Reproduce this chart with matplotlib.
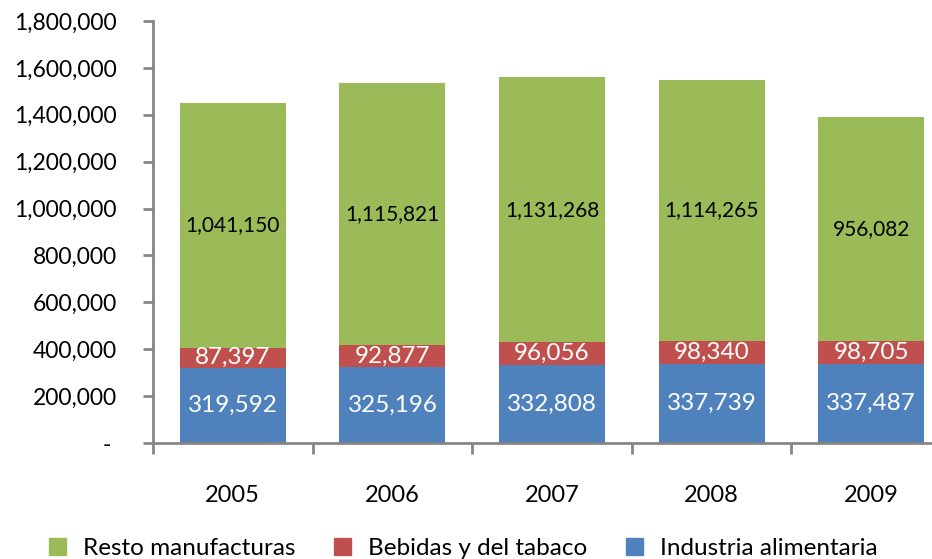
import numpy as np
import matplotlib
matplotlib.use("Agg")
import matplotlib.pyplot as plt
from matplotlib.patches import Patch
from matplotlib.ticker import FuncFormatter, FixedLocator

years = ["2005", "2006", "2007", "2008", "2009"]
industria = [319592, 325196, 332808, 337739, 337487]
bebidas = [87397, 92877, 96056, 98340, 98705]
resto = [1041150, 1115821, 1131268, 1114265, 956082]

c_blue = "#4F81BD"
c_red = "#C0504D"
c_green = "#9BBB59"
c_axis = "#868686"

plt.rcParams["font.family"] = ["Lato", "DejaVu Sans"]

fig = plt.figure(figsize=(9.32, 5.59), dpi=100)
# axes runs a little past the right edge of the figure
ax = fig.add_axes([153 / 932, 1 - 443 / 559, 798 / 932, 422 / 559])

x = np.arange(len(years))
w = 0.665
ind = np.array(industria)
beb = np.array(bebidas)
res = np.array(resto)

ax.bar(x, ind, w, color=c_blue, edgecolor="none", zorder=2)
ax.bar(x, beb, w, bottom=ind, color=c_red, edgecolor="none", zorder=2)
ax.bar(x, res, w, bottom=ind + beb, color=c_green, edgecolor="none", zorder=2)

# value labels centred in each segment
for i in range(len(years)):
    ax.text(x[i], ind[i] / 2, f"{ind[i]:,}", ha="center", va="center",
            color="white", fontsize=17.5, zorder=3)
    ax.text(x[i], ind[i] + beb[i] / 2, f"{beb[i]:,}", ha="center", va="center",
            color="white", fontsize=17.5, zorder=3)
    ax.text(x[i], ind[i] + beb[i] + res[i] / 2, f"{res[i]:,}", ha="center",
            va="center", color="black", fontsize=15, zorder=3)

ax.set_xlim(-0.5, len(years) - 0.5)
ax.set_ylim(0, 1800000)
ax.set_yticks(np.arange(0, 1800001, 200000))
ax.yaxis.set_major_formatter(FuncFormatter(lambda v, p: "- " if v == 0 else f"{int(v):,}"))

ax.set_xticks(x)
ax.set_xticklabels(years)
ax.xaxis.set_minor_locator(FixedLocator(np.arange(-0.5, len(years), 1.0)))

for s in ["top", "right"]:
    ax.spines[s].set_visible(False)
for s in ["left", "bottom"]:
    ax.spines[s].set_color(c_axis)
    ax.spines[s].set_linewidth(2)

ax.tick_params(axis="y", length=7, width=2, color=c_axis, pad=19,
               labelsize=16.5, labelcolor="black")
ax.tick_params(axis="x", which="major", length=0, pad=30, labelsize=17,
               labelcolor="black")
ax.tick_params(axis="x", which="minor", length=8, width=2, color=c_axis)

handles = [Patch(color=c_green, label="Resto manufacturas"),
           Patch(color=c_red, label="Bebidas y del tabaco"),
           Patch(color=c_blue, label="Industria alimentaria")]
fig.legend(handles=handles, loc="lower center", bbox_to_anchor=(0.497, -0.04),
           ncol=3, frameon=False, fontsize=17.5, handlelength=0.7,
           handleheight=0.7, handletextpad=0.7, columnspacing=1.6)

fig.savefig("out.png", dpi=100)
